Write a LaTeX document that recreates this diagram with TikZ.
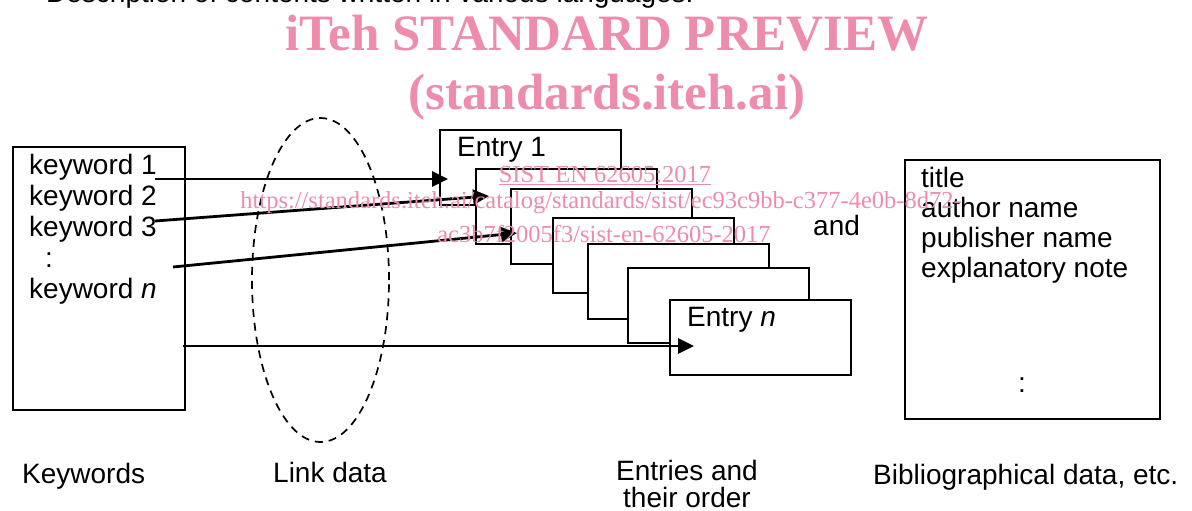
\documentclass[tikz,border=0pt]{standalone}
\usepackage{fontspec}
\setmainfont{Liberation Sans}
\newfontfamily\wmfont{Liberation Serif}
\usetikzlibrary{arrows.meta,shapes.geometric}
\definecolor{wmpink}{RGB}{238,140,172}
\begin{document}
\begin{tikzpicture}[x=1pt,y=-1pt,
  font=\fontsize{28}{31}\selectfont,
  box/.style={draw, line width=2.2pt, fill=white, inner sep=0pt, anchor=north west},
  entrybox/.style={box, minimum width=181pt, minimum height=75pt},
  txt/.style={anchor=base west, inner sep=0pt},
  ctxt/.style={anchor=base, inner sep=0pt},
  link/.style={line width=2.8pt, -{Triangle[length=16pt,width=15pt]}},
  wmbig/.style={text=wmpink, inner sep=0pt, anchor=base, font=\wmfont\bfseries\fontsize{51}{51}\selectfont},
  wmsmall/.style={text=wmpink, inner sep=0pt, anchor=base, font=\wmfont\fontsize{24.5}{24.5}\selectfont}]
\useasboundingbox (0,0) rectangle (1192,511);
\clip (0,0) rectangle (1192,511);

% cut-off heading
\node[txt] (desc) at (46,3) {Description of contents written in various languages.};

% keywords box
\node[box, minimum width=172pt, minimum height=263pt] (kwbox) at (12,146) {};
\node[txt] (k1) at (29,174) {keyword 1};
\node[txt] (k2) at (29,205) {keyword 2};
\node[txt] (k3) at (29,236) {keyword 3};
\node[txt] (kd) at (45,267) {:};
\node[txt] (kn) at (29,298) {keyword \textit{n}};

% link data ellipse
\node[draw, ellipse, dashed, dash pattern=on 8pt off 6pt, line width=1.7pt,
      minimum width=137pt, minimum height=324pt, inner sep=0pt] (link) at (320.5,280) {};

% entries
\node[entrybox] (e1) at (439,129) {};
\node[txt] (e1t) at (457,156) {Entry 1};
\node[entrybox] (e2) at (475,168) {};
\node[entrybox] (e3) at (510,188) {};
\node[entrybox] (e4) at (552,217) {};
\node[entrybox] (e5) at (587,243) {};
\node[entrybox] (e6) at (627,267) {};
\node[entrybox] (e7) at (669,299) {};
\node[txt] (ent) at (687,326) {Entry \textit{n}};

\node[txt] (and) at (813,235) {and};

% bibliographical box
\node[box, minimum width=255pt, minimum height=259pt] (bib) at (904,159) {};
\node[txt] (b1) at (921,187) {title};
\node[txt] (b2) at (921,217) {author name};
\node[txt] (b3) at (921,247) {publisher name};
\node[txt] (b4) at (921,277) {explanatory note};
\node[txt] (bd) at (1018,392) {:};

% connectors
\coordinate (s1) at (155,179);
\coordinate (s3) at (155,221);
\coordinate (sd) at (173,267);
\coordinate (sn) at (183,346);
\coordinate (t1) at (448,179);
\coordinate (t2) at (489,196);
\coordinate (t3) at (517,233);
\coordinate (t4) at (694,346);
\draw[link] (s1) -- (t1);
\draw[link] (s3) -- (t2);
\draw[link] (sd) -- (t3);
\draw[link] (sn) -- (t4);

% captions
\node[txt] (capk) at (22,483) {Keywords};
\node[txt] (capl) at (273,482) {Link data};
\node[ctxt] (cape1) at (687,480) {Entries and};
\node[ctxt] (cape2) at (687,507) {their order};
\node[txt] (capb) at (873,484) {Bibliographical data, etc.};

% watermark
\node[wmbig] (wm1) at (607,51) {iTeh STANDARD PREVIEW};
\node[wmbig] (wm2) at (607,110) {(standards.iteh.ai)};
\node[wmsmall] (wm3) at (605,182) {\underline{SIST EN 62605:2017}};
\node[wmsmall] (wm4) at (601,208) {https://standards.iteh.ai/catalog/standards/sist/ec93c9bb-c377-4e0b-8d72-};
\node[wmsmall] (wm5) at (604,242) {ac3b7f2005f3/sist-en-62605-2017};
\end{tikzpicture}
\end{document}
